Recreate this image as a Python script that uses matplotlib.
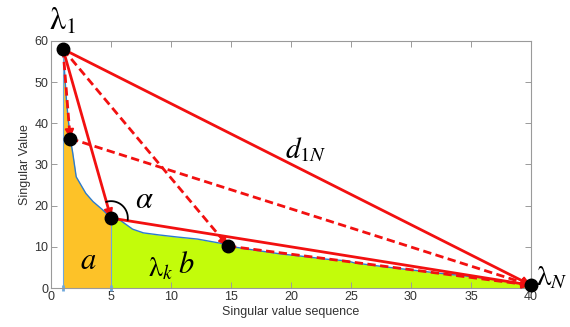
import matplotlib.pyplot as plt
import numpy as np

plt.rcParams["mathtext.fontset"] = "stix"
plt.rcParams["font.family"] = ["Liberation Sans", "DejaVu Sans"]

# singular value curve
seq = [1.0, 1.3, 1.6, 1.8, 2.1, 2.9, 3.5, 4.3, 5.0, 5.75, 6.8, 7.7, 9.0,
       10.5, 12.2, 14.1, 14.75, 17.0, 19.1, 21.0, 23.0, 24.7, 25.3, 28.0,
       30.0, 33.0, 35.0, 37.4, 39.0, 40.0]
sval = [58.0, 45.0, 36.3, 33.0, 27.0, 23.0, 21.0, 19.0, 17.0, 16.5, 14.3,
        13.4, 12.9, 12.4, 11.9, 10.9, 10.2, 9.2, 8.3, 7.7, 7.0, 6.6, 6.1,
        5.1, 4.4, 3.4, 2.8, 1.9, 1.2, 0.7]

# highlighted singular values: lambda_1, two candidates, knee, lambda_N
pt_x = [1.0, 1.6, 5.0, 14.75, 40.0]
pt_y = [58.0, 36.3, 17.0, 10.2, 0.7]
knee = 5.0

# (start index, end index, dashed?)
links = [(0, 4, False), (0, 2, False), (2, 4, False),
         (0, 1, True), (1, 4, True), (0, 3, True), (3, 4, True)]

xticks = [0, 5, 10, 15, 20, 25, 30, 35, 40]
yticks = [0, 10, 20, 30, 40, 50, 60]

red = "#F21010"
grey = "#9A9A9A"

fig = plt.figure(figsize=(5.7, 3.27), dpi=100)
ax = fig.add_axes([0.0895, 0.119, 0.842, 0.756])

seq = np.array(seq)
sval = np.array(sval)
ax.fill_between(seq, 0, sval, where=seq <= knee, color="#FDC228",
                linewidth=0, zorder=1)
ax.fill_between(seq, 0, sval, where=seq >= knee, color="#C3FC0A",
                linewidth=0, zorder=1)
ax.plot(seq, sval, color="#2B7BD0", lw=1.0, zorder=2)
ax.vlines([seq[0], knee], 0, [sval[0], pt_y[2]], color="#6FA8DC", lw=0.8,
          zorder=2)
ax.plot([seq[0], knee], [0, 0], ls="", marker="|", ms=5, mew=2,
        color="#6FA8DC", zorder=2, clip_on=False)

for i, j, dashed in links:
    x0, y0, x1, y1 = pt_x[i], pt_y[i], pt_x[j], pt_y[j]
    ax.plot([x0, x1], [y0, y1], color=red, lw=2.0,
            ls=(0, (3.0, 1.6)) if dashed else "-", zorder=3)
    f = 0.97 if j != 4 else 0.985
    ax.annotate("", xy=(x1, y1), xytext=(x0 + f * (x1 - x0), y0 + f * (y1 - y0)),
                arrowprops=dict(arrowstyle="-|>", color=red, lw=1.5,
                                mutation_scale=13, shrinkA=0, shrinkB=0),
                zorder=4)

ax.plot(pt_x, pt_y, ls="", marker="o", ms=9, color="black", zorder=5,
        clip_on=False)

# angle arc at the knee (circular in pixels)
t = np.linspace(np.radians(-6), np.radians(106), 60)
ax.plot(pt_x[2] + 1.4 * np.cos(t), pt_y[2] + 4.1 * np.sin(t),
        color="black", lw=1.3, zorder=5)

ax.text(1.0, 64.6, r"$\mathrm{\lambda}_1$", fontsize=23, ha="center",
        va="center", clip_on=False)
ax.text(40.4, 2.6, r"$\mathrm{\lambda}_N$", fontsize=21, ha="left",
        va="center", clip_on=False)
ax.text(21.2, 33.5, r"$d_{1N}$", fontsize=21, ha="center", va="center")
ax.text(7.8, 21.4, r"$\alpha$", fontsize=22, ha="center", va="center")
ax.text(9.1, 4.6, r"$\mathrm{\lambda}_k$", fontsize=20, ha="center",
        va="center")
ax.text(3.1, 6.5, r"$a$", fontsize=22, ha="center", va="center")
ax.text(11.3, 5.6, r"$b$", fontsize=22, ha="center", va="center")

ax.set_xlim(0, 40)
ax.set_ylim(0, 60)
ax.set_xticks(xticks)
ax.set_yticks(yticks)
ax.tick_params(direction="in", length=4, width=0.7, color=grey,
               labelsize=9, labelcolor="#333333", top=True, right=True,
               pad=2)
for s in ax.spines.values():
    s.set_color(grey)
    s.set_linewidth(0.8)
ax.set_xlabel("Singular value sequence", fontsize=9, color="#333333",
              labelpad=2)
ax.set_ylabel("Singular Value", fontsize=9, color="#333333", labelpad=2)

fig.savefig("out.png", dpi=100)
